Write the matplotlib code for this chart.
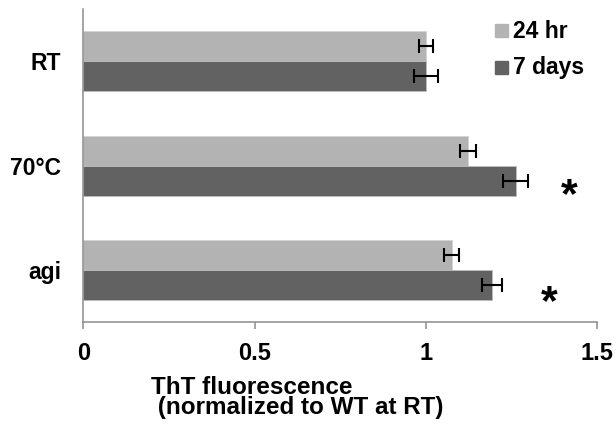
import matplotlib
matplotlib.use("Agg")
import matplotlib.pyplot as plt
from matplotlib.patches import Rectangle
import numpy as np

plt.rcParams['font.family'] = ['Liberation Sans', 'DejaVu Sans']
plt.rcParams['font.weight'] = 'bold'

categories = ['RT', '70°C', 'agi']
series = ['24 hr', '7 days']
vals_24hr = [1.00, 1.123, 1.075]
err_24hr = [0.020, 0.024, 0.022]
vals_7days = [1.00, 1.262, 1.193]
err_7days = [0.034, 0.036, 0.030]
# significance stars, data coords (x value, y position)
star_x = [1.417, 1.359]
star_y = [0.71, -0.315]

light = '#b3b3b3'
dark = '#626262'
axis_col = '#8c8c8c'
W, H = 616, 432

fig = plt.figure(figsize=(6.16, 4.32), dpi=100)
ax = fig.add_axes([83.3 / W, 1 - 322.3 / H, 514 / W, 313.3 / H])

pos = np.arange(len(categories))[::-1]  # RT at top
h = 0.287
ekw = dict(ecolor='black', elinewidth=1.5, capsize=4.7, capthick=1.5)
ax.barh(pos + h / 2, vals_24hr, height=h, color=light, edgecolor='#d4d4d4',
        linewidth=0.6, xerr=err_24hr, error_kw=ekw)
ax.barh(pos - h / 2, vals_7days, height=h, color=dark, edgecolor='#bdbdbd',
        linewidth=0.6, xerr=err_7days, error_kw=ekw)

for sx, sy in zip(star_x, star_y):
    ax.text(sx, sy, '*', fontsize=31, fontweight='bold',
            ha='center', va='center')

ax.set_xlim(0, 1.5)
ax.set_ylim(-0.5, 2.5)
ax.set_xticks([0, 0.5, 1, 1.5])
ax.set_xticklabels(['0', '0.5', '1', '1.5'])
ax.set_yticks(pos)
ax.set_yticklabels(categories)
for s in ['top', 'right']:
    ax.spines[s].set_visible(False)
for s in ['left', 'bottom']:
    ax.spines[s].set_color(axis_col)
    ax.spines[s].set_linewidth(1.1)
ax.tick_params(axis='x', length=5, width=1.1, color=axis_col, pad=9,
               labelsize=17)
ax.tick_params(axis='y', length=0, pad=16, labelsize=16.5)

# x-axis title, two tight lines
fig.text(151 / W, 1 - 375.5 / H, 'ThT fluorescence\n (normalized to WT at RT)',
         ha='left', va='top', fontsize=17.5, fontweight='bold',
         linespacing=0.88)

# legend
for i, (lab, col) in enumerate(zip(series, [light, dark])):
    top = 24.3 + i * 37
    fig.patches.append(Rectangle((495 / W, 1 - (top + 13) / H), 13 / W, 13 / H,
                                 transform=fig.transFigure, color=col,
                                 figure=fig))
    fig.text(513 / W, 1 - (38.3 + i * 36) / H, lab, ha='left',
             va='baseline', fontsize=16.5, fontweight='bold')

fig.savefig('out.png', dpi=100)
